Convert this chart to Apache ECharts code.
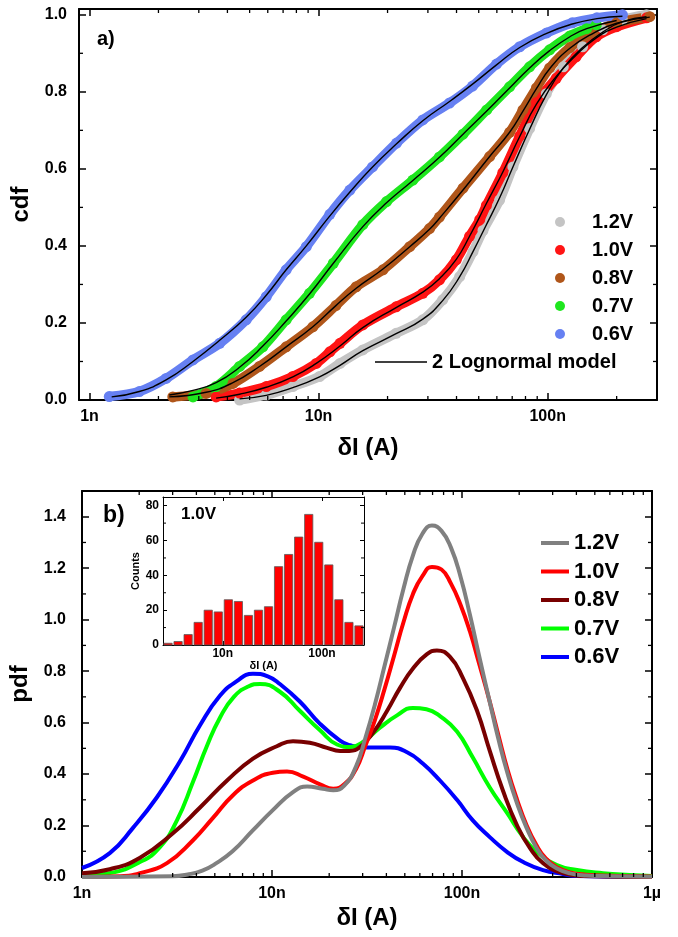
<!DOCTYPE html>
<html>
<head>
<meta charset="utf-8">
<script src="https://cdn.jsdelivr.net/npm/echarts@6/dist/echarts.min.js"></script>
<style>
  html, body { margin: 0; padding: 0; background: #fff; }
  #chart { width: 678px; height: 937px; }
</style>
</head>
<body>
<div id="chart"></div>
<script>
// ---------- (a) measured cumulative distributions: [δI in nA, cdf] ----------
const cdf12 = [[4.52,0.0],[5.91,0.013],[7.72,0.035],[10.1,0.061],[12.4,0.095],[15.6,0.13],[21.8,0.173],[28.5,0.208],[34.8,0.26],[41.3,0.32],[47.2,0.385],[52.2,0.44],[61.7,0.519],[70.5,0.605],[83.4,0.705],[98.6,0.795],[117,0.865],[142,0.917],[174,0.961],[212,0.987],[270,1.0]];
const cdf10 = [[3.57,0.008],[4.52,0.018],[5.91,0.035],[7.72,0.061],[9.77,0.095],[11.2,0.125],[12.4,0.147],[15.6,0.195],[21.8,0.242],[28.5,0.277],[33.7,0.312],[39.9,0.364],[45.6,0.425],[50.5,0.468],[54.0,0.505],[63.7,0.59],[75.5,0.685],[89.3,0.772],[109,0.835],[133,0.891],[163,0.943],[200,0.969],[270,0.992]];
const cdf08 = [[2.31,0.008],[3.23,0.017],[4.23,0.043],[5.52,0.087],[7.22,0.138],[9.44,0.19],[11.9,0.245],[14.6,0.294],[19.1,0.338],[25.0,0.398],[30.5,0.445],[33.7,0.475],[42.7,0.55],[55.8,0.632],[68.2,0.695],[78.0,0.753],[89.3,0.81],[102,0.862],[125,0.915],[158,0.953],[200,0.979],[279,0.995]];
const cdf07 = [[2.83,0.008],[3.57,0.035],[4.52,0.087],[5.71,0.138],[7.22,0.208],[9.13,0.277],[11.6,0.355],[15.6,0.455],[19.8,0.515],[25.8,0.571],[33.7,0.631],[42.7,0.69],[54.2,0.753],[68.2,0.813],[83.4,0.865],[102,0.909],[125,0.945],[148,0.964],[163,0.974]];
const cdf06 = [[1.22,0.009],[1.65,0.022],[2.16,0.056],[2.83,0.104],[3.70,0.147],[4.83,0.208],[5.91,0.268],[7.22,0.338],[8.84,0.398],[11.2,0.482],[13.7,0.545],[17.2,0.605],[21.9,0.667],[28.5,0.727],[37.3,0.771],[47.0,0.815],[59.8,0.872],[75.5,0.917],[99,0.953],[128,0.979],[164,0.992],[212,1.0]];

// ---------- (a) two-lognormal model curves: [δI in nA, cdf] ----------
const fit12 = [[4.52,0.003],[5.91,0.012],[7.72,0.032],[10.1,0.06],[12.4,0.09],[15.6,0.128],[21.8,0.172],[28.5,0.21],[34.8,0.258],[41.3,0.32],[47.2,0.385],[54.0,0.455],[61.7,0.525],[70.5,0.605],[83.4,0.703],[98.6,0.792],[117,0.862],[142,0.915],[174,0.955],[212,0.982],[270,0.995]];
const fit10 = [[3.57,0.005],[4.52,0.015],[5.91,0.033],[7.72,0.06],[9.77,0.095],[12.4,0.14],[15.6,0.188],[21.8,0.24],[28.5,0.28],[33.7,0.315],[39.9,0.365],[45.6,0.425],[54.0,0.51],[63.7,0.592],[75.5,0.684],[89.3,0.768],[109,0.84],[133,0.895],[163,0.94],[200,0.968],[270,0.99]];
const fit08 = [[2.23,0.008],[3.23,0.02],[4.23,0.045],[5.52,0.087],[7.22,0.138],[9.44,0.19],[11.9,0.245],[14.6,0.29],[19.1,0.34],[25.0,0.398],[30.5,0.443],[33.7,0.472],[42.7,0.545],[55.8,0.632],[68.2,0.695],[78.0,0.75],[89.3,0.808],[102,0.86],[125,0.913],[158,0.952],[200,0.978],[279,0.994]];
const fit07 = [[2.23,0.013],[2.83,0.025],[3.57,0.045],[4.52,0.085],[5.71,0.14],[7.22,0.205],[9.13,0.275],[11.6,0.355],[15.6,0.45],[19.8,0.512],[25.8,0.57],[33.7,0.63],[42.7,0.69],[54.2,0.75],[68.2,0.81],[83.4,0.862],[102,0.907],[125,0.943],[148,0.964],[200,0.985]];
const fit06 = [[1.25,0.008],[1.65,0.022],[2.16,0.052],[2.83,0.1],[3.70,0.155],[4.83,0.215],[5.91,0.272],[7.22,0.338],[8.84,0.40],[11.2,0.478],[13.7,0.54],[17.2,0.605],[21.9,0.665],[28.5,0.725],[37.3,0.775],[47.0,0.82],[59.8,0.87],[75.5,0.915],[99,0.952],[128,0.976],[164,0.99],[212,0.996]];

// ---------- (b) model densities: [δI in nA, pdf] ----------
const pdf12 = [[1.0,0],[3.0,0.003],[3.6,0.01],[4.3,0.025],[5.0,0.05],[6.2,0.1],[7.9,0.18],[10.1,0.26],[12.9,0.33],[15.3,0.352],[18.5,0.343],[21.0,0.337],[24.0,0.355],[27.7,0.43],[31.0,0.54],[34.8,0.67],[39.1,0.82],[43.9,0.97],[49.2,1.12],[55.2,1.25],[62.0,1.335],[69.5,1.366],[78.0,1.345],[87.5,1.28],[98.0,1.17],[110,1.02],[123,0.86],[139,0.69],[155,0.54],[174,0.40],[195,0.285],[219,0.19],[246,0.115],[276,0.065],[316,0.033],[370,0.014],[450,0.006],[600,0.003],[1000,0.001]];
const pdf10 = [[1.0,0],[1.6,0.003],[2.02,0.015],[2.8,0.054],[3.84,0.143],[4.89,0.23],[6.23,0.318],[7.94,0.375],[10.1,0.405],[12.0,0.41],[14.6,0.39],[17.9,0.36],[21.0,0.343],[24.0,0.36],[27.7,0.42],[31.0,0.51],[34.8,0.61],[39.1,0.73],[43.9,0.86],[49.2,0.99],[55.2,1.10],[62.0,1.17],[69.5,1.205],[78.0,1.195],[87.5,1.14],[98.0,1.06],[110,0.955],[123,0.83],[139,0.69],[155,0.555],[174,0.415],[195,0.30],[219,0.20],[246,0.125],[276,0.072],[316,0.038],[370,0.018],[450,0.009],[600,0.005],[1000,0.002]];
const pdf08 = [[1.0,0.015],[1.4,0.03],[2.02,0.075],[3.01,0.17],[4.18,0.27],[5.8,0.375],[7.94,0.46],[10.6,0.508],[12.9,0.528],[15.8,0.522],[19.5,0.502],[22.8,0.49],[25.5,0.49],[29.0,0.505],[34.0,0.56],[40.3,0.645],[47.2,0.735],[55.2,0.81],[65.4,0.866],[73.8,0.88],[86.5,0.855],[101,0.774],[120,0.646],[140,0.49],[164,0.337],[195,0.20],[228,0.112],[267,0.054],[340,0.015],[433,0.004],[1000,0]];
const pdf07 = [[1.0,0.004],[1.4,0.015],[2.02,0.058],[2.57,0.116],[3.16,0.22],[3.84,0.37],[4.55,0.51],[5.33,0.62],[6.3,0.7],[7.5,0.74],[8.65,0.75],[11.0,0.72],[14.0,0.646],[17.9,0.57],[22.0,0.515],[26.0,0.505],[30.1,0.525],[37.0,0.58],[45.5,0.628],[55.2,0.657],[65.0,0.652],[76.6,0.625],[94.1,0.565],[114,0.464],[140,0.348],[173,0.248],[210,0.155],[248,0.097],[316,0.046],[403,0.027],[552,0.015],[766,0.008],[1000,0.004]];
const pdf06 = [[1.0,0.035],[1.4,0.093],[1.85,0.19],[2.48,0.31],[3.28,0.45],[4.18,0.59],[5.33,0.705],[6.5,0.76],[7.94,0.79],[9.5,0.78],[11.0,0.75],[14.0,0.682],[17.9,0.595],[22.8,0.53],[25.7,0.512],[30.1,0.503],[41.8,0.503],[51.4,0.485],[62.4,0.44],[76.6,0.375],[94.1,0.30],[114,0.22],[140,0.155],[173,0.097],[210,0.058],[267,0.027],[340,0.012],[403,0.004],[1000,0]];

// ---------- (b) inset: 1.0V histogram ----------
const histEdges = [2.500,3.157,3.986,5.033,6.353,8.021,10.13,12.79,16.14,20.38,25.73,32.49,41.02,51.79,65.39,82.56,104.2,131.6,166.2,209.8,264.9]; // nA
const histCounts = [1,2,6,13,20,19,26,25,17,20,22,45,52,62,75,59,46,26,13,11];

// ---------- tick labels and minor tick positions ----------
const decadeExps = [-9, -8, -7, -6];
const decadeLabels = ['1n', '10n', '100n', '1µ'];
const minorX_a = [2,3,4,5,6,7,8,9,20,30,40,50,60,70,80,90,200];             // nA
const minorX_b = [2,3,4,5,6,7,8,9,20,30,40,50,60,70,80,90,200,300,400,500,600,700,800,900];
const minorY_a = [0.1,0.3,0.5,0.7,0.9];
const minorY_b = [0.1,0.3,0.5,0.7,0.9,1.1,1.3];
const minorY_in = [10,30,50,70];

const FONT = 'Arial, "Liberation Sans", sans-serif';
const nA = v => v * 1e-9;
const toA = arr => arr.map(p => [nA(p[0]), p[1]]);

function decadeFmt(v) {
  const e = Math.log10(v), r = Math.round(e);
  if (Math.abs(e - r) > 1e-6) return '';
  const i = decadeExps.indexOf(r);
  return i < 0 ? '' : decadeLabels[i];
}
function stepFmt(step, digits) {
  return v => Math.abs(v / step - Math.round(v / step)) < 1e-6 ? v.toFixed(digits) : '';
}

const X = {
  a: { min: 0.9e-9, max: 3e-7 },
  b: { min: 1e-9, max: 1e-6 },
  inset: { min: nA(histEdges[0]), max: nA(histEdges[histEdges.length - 1]) }
};
const Y = {
  a: { min: 0, max: 1.015, interval: 0.2 },
  b: { min: 0, max: 1.5, interval: 0.2 },
  inset: { min: 0, max: 85, interval: 20 }
};

const lineStyleAxis = { color: '#000', width: 2 };
const labelText = { fontSize: 16, fontWeight: 'bold', color: '#000', fontFamily: FONT };
const nameText = { fontSize: 24, fontWeight: 'bold', color: '#000', fontFamily: FONT };

function xAx(grid, range, opts) {
  return Object.assign({
    type: 'log', logBase: 10, gridIndex: grid, min: range.min, max: range.max,
    axisLine: { onZero: false, lineStyle: lineStyleAxis },
    axisTick: { inside: true, length: 7, lineStyle: { color: '#000', width: 1.5 } },
    splitLine: { show: false },
    axisLabel: Object.assign({ formatter: decadeFmt, margin: 9 }, labelText)
  }, opts || {});
}
function yAx(grid, range, opts) {
  return Object.assign({
    type: 'value', gridIndex: grid, min: range.min, max: range.max, interval: range.interval,
    axisLine: { show: true, onZero: false, lineStyle: lineStyleAxis },
    axisTick: { show: true, inside: true, length: 7, lineStyle: { color: '#000', width: 1.5 } },
    splitLine: { show: false },
    axisLabel: Object.assign({ formatter: stepFmt(range.interval, 1), margin: 12 }, labelText)
  }, opts || {});
}

// short tick marks placed through the axis scales (log-decade minors and half-step minors)
function minorTicks(xi, yi, data, vertical, len, width) {
  return {
    type: 'custom', xAxisIndex: xi, yAxisIndex: yi, silent: true, z: 6, clip: false,
    data: data,
    renderItem(params, api) {
      const cs = params.coordSys;
      const p = api.coord([api.value(0), api.value(1)]);
      const st = { stroke: '#000', lineWidth: width };
      if (vertical) {
        const yb = cs.y + cs.height, yt = cs.y;
        return { type: 'group', children: [
          { type: 'line', shape: { x1: p[0], y1: yb, x2: p[0], y2: yb - len }, style: st },
          { type: 'line', shape: { x1: p[0], y1: yt, x2: p[0], y2: yt + len }, style: st }
        ]};
      }
      const xl = cs.x, xr = cs.x + cs.width;
      return { type: 'group', children: [
        { type: 'line', shape: { x1: xl, y1: p[1], x2: xl + len, y2: p[1] }, style: st },
        { type: 'line', shape: { x1: xr, y1: p[1], x2: xr - len, y2: p[1] }, style: st }
      ]};
    }
  };
}

const bandColors = { '1.2V': '#c4c4c4', '1.0V': '#ff1414', '0.8V': '#b0561a', '0.7V': '#1ee61e', '0.6V': '#6680f2' };
const pdfColors  = { '1.2V': '#808080', '1.0V': '#ff0000', '0.8V': '#780000', '0.7V': '#00ff00', '0.6V': '#0000ff' };
const names = ['1.2V', '1.0V', '0.8V', '0.7V', '0.6V'];
const cdfSets = { '1.2V': cdf12, '1.0V': cdf10, '0.8V': cdf08, '0.7V': cdf07, '0.6V': cdf06 };
const fitSets = { '1.2V': fit12, '1.0V': fit10, '0.8V': fit08, '0.7V': fit07, '0.6V': fit06 };
const pdfSets = { '1.2V': pdf12, '1.0V': pdf10, '0.8V': pdf08, '0.7V': pdf07, '0.6V': pdf06 };

const series = [];
names.forEach(n => series.push({
  name: n, type: 'line', xAxisIndex: 0, yAxisIndex: 0, data: toA(cdfSets[n]),
  smooth: 0.3, symbol: 'circle', symbolSize: 11, showSymbol: true, z: 2,
  lineStyle: { width: 9.5, color: bandColors[n] }, itemStyle: { color: bandColors[n], borderWidth: 0 }
}));
names.forEach(n => series.push({
  name: '2 Lognormal model', type: 'line', xAxisIndex: 0, yAxisIndex: 0, data: toA(fitSets[n]),
  smooth: 0.5, showSymbol: false, z: 3,
  lineStyle: { width: 1.4, color: '#000' }, itemStyle: { color: '#000' }
}));
names.slice().reverse().forEach(n => series.push({
  name: n, type: 'line', xAxisIndex: 2, yAxisIndex: 2, data: toA(pdfSets[n]),
  smooth: 0.5, showSymbol: false, z: 2,
  lineStyle: { width: 4, color: pdfColors[n] }, itemStyle: { color: pdfColors[n] }
}));
series.push({
  name: 'hist', type: 'custom', xAxisIndex: 4, yAxisIndex: 4, z: 4,
  data: histCounts.map((c, i) => [nA(histEdges[i]), nA(histEdges[i + 1]), c]),
  renderItem(params, api) {
    const a = api.coord([api.value(0), api.value(2)]);
    const b = api.coord([api.value(1), 0]);
    return { type: 'rect', shape: { x: a[0] + 0.9, y: a[1], width: b[0] - a[0] - 1.8, height: b[1] - a[1] },
             style: { fill: '#ff0000', stroke: '#5a5a5a', lineWidth: 0.8 } };
  }
});
series.push(minorTicks(0, 0, minorX_a.map(v => [nA(v), 0.5]), true, 4, 1.3));
series.push(minorTicks(0, 0, minorY_a.map(v => [X.a.min, v]), false, 4, 1.3));
series.push(minorTicks(2, 2, minorX_b.map(v => [nA(v), 0.5]), true, 4, 1.3));
series.push(minorTicks(2, 2, minorY_b.map(v => [X.b.min, v]), false, 4, 1.3));
series.push(minorTicks(4, 4, minorY_in.map(v => [X.inset.min, v]), false, 3, 1));

const option = {
  animation: false,
  backgroundColor: '#fff',
  textStyle: { fontFamily: FONT },
  title: [
    { text: 'a)', left: 97, top: 29, padding: 0, textStyle: { fontSize: 20, fontWeight: 'bold', color: '#000', fontFamily: FONT } },
    { text: 'b)', left: 103, top: 504, padding: 0, textStyle: { fontSize: 23, fontWeight: 'bold', color: '#000', fontFamily: FONT } },
    { text: '1.0V', left: 181, top: 506, padding: 0, textStyle: { fontSize: 17, fontWeight: 'bold', color: '#000', fontFamily: FONT } }
  ],
  grid: [
    { left: 79, top: 9, width: 578, height: 391 },
    { left: 82, top: 491, width: 570, height: 386 },
    { left: 163, top: 497, width: 201, height: 148, show: true, backgroundColor: '#fff', borderWidth: 0 }
  ],
  legend: [
    { data: names.map(n => ({ name: n, icon: 'circle', itemStyle: { color: bandColors[n], borderWidth: 0 } })),
      orient: 'vertical', left: 555, top: 212, padding: 0, itemWidth: 54, itemHeight: 10, itemGap: 8,
      itemStyle: { borderWidth: 0 }, selectedMode: false,
      textStyle: { fontSize: 20, lineHeight: 20, fontWeight: 'bold', color: '#000', fontFamily: FONT } },
    { data: [{ name: '2 Lognormal model', icon: 'rect', itemStyle: { color: '#000', borderWidth: 0 } }],
      orient: 'vertical', left: 375, top: 352, padding: 0, itemWidth: 52, itemHeight: 1.5, selectedMode: false,
      itemStyle: { borderWidth: 0 },
      textStyle: { fontSize: 20, lineHeight: 20, fontWeight: 'bold', color: '#000', fontFamily: FONT } },
    { data: names.map(n => ({ name: n, icon: 'rect', itemStyle: { color: pdfColors[n], borderWidth: 0 } })),
      orient: 'vertical', left: 541, top: 532, padding: 0, itemWidth: 28, itemHeight: 4, itemGap: 6.5,
      itemStyle: { borderWidth: 0 }, selectedMode: false,
      textStyle: { fontSize: 22, lineHeight: 22, fontWeight: 'bold', color: '#000', fontFamily: FONT } }
  ],
  xAxis: [
    xAx(0, X.a, { name: 'δI (A)', nameLocation: 'middle', nameGap: 36, nameTextStyle: nameText }),
    xAx(0, X.a, { position: 'top', axisLabel: { show: false } }),
    xAx(1, X.b, { name: 'δI (A)', nameLocation: 'middle', nameGap: 29, nameTextStyle: nameText }),
    xAx(1, X.b, { position: 'top', axisLabel: { show: false } }),
    xAx(2, X.inset, { name: 'δI (A)', nameLocation: 'middle', nameGap: 14,
      axisLine: { onZero: false, lineStyle: { color: '#000', width: 1 } },
      axisTick: { inside: true, length: 4, lineStyle: { color: '#000', width: 1 } },
      axisLabel: { formatter: decadeFmt, fontSize: 12, fontWeight: 'bold', color: '#000', fontFamily: FONT, margin: 3 },
      nameTextStyle: { fontSize: 11, fontWeight: 'bold', color: '#000', fontFamily: FONT } }),
    xAx(2, X.inset, { position: 'top', axisLabel: { show: false },
      axisLine: { onZero: false, lineStyle: { color: '#000', width: 1 } },
      axisTick: { inside: true, length: 4, lineStyle: { color: '#000', width: 1 } } })
  ],
  yAxis: [
    yAx(0, Y.a, { name: 'cdf', nameLocation: 'middle', nameGap: 36, nameRotate: 90, nameTextStyle: nameText }),
    yAx(0, Y.a, { position: 'right', axisLabel: { show: false } }),
    yAx(1, Y.b, { name: 'pdf', nameLocation: 'middle', nameGap: 38, nameRotate: 90,
      axisLabel: Object.assign({ formatter: stepFmt(0.2, 1), margin: 16 }, labelText),
      nameTextStyle: nameText }),
    yAx(1, Y.b, { position: 'right', axisLabel: { show: false } }),
    yAx(2, Y.inset, { name: 'Counts', nameLocation: 'middle', nameGap: 22, nameRotate: 90,
      axisLine: { show: true, onZero: false, lineStyle: { color: '#000', width: 1 } },
      axisTick: { show: true, inside: true, length: 4, lineStyle: { color: '#000', width: 1 } },
      axisLabel: { formatter: stepFmt(20, 0), fontSize: 12, fontWeight: 'bold', color: '#000', fontFamily: FONT, margin: 4 },
      nameTextStyle: { fontSize: 11, fontWeight: 'bold', color: '#000', fontFamily: FONT } }),
    yAx(2, Y.inset, { position: 'right', axisLabel: { show: false },
      axisLine: { show: true, onZero: false, lineStyle: { color: '#000', width: 1 } },
      axisTick: { show: true, inside: true, length: 4, lineStyle: { color: '#000', width: 1 } } })
  ],
  series: series
};

const chart = echarts.init(document.getElementById('chart'), null, { renderer: 'canvas' });
chart.setOption(option);
</script>
</body>
</html>
